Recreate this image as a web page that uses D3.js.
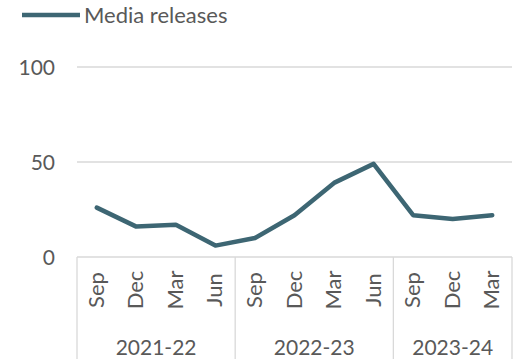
<!DOCTYPE html>
<html>
<head>
<meta charset="utf-8">
<script src="https://cdn.jsdelivr.net/npm/d3@7"></script>
<style>
  body { margin: 0; background: #fff; }
  svg { display: block; }
</style>
</head>
<body>
<svg id="chart" width="517" height="359"></svg>
<script>
// Chart data
const months = ["Sep", "Dec", "Mar", "Jun", "Sep", "Dec", "Mar", "Jun", "Sep", "Dec", "Mar"];
const years = ["2021-22", "2022-23", "2023-24"];
const yearSizes = [4, 4, 3];
const values = [26, 16, 17, 6, 10, 22, 39, 49, 22, 20, 22];
const yTicks = [0, 50, 100];
const seriesName = "Media releases";

const font = "Lato, 'Open Sans', sans-serif";
const lineColor = "#3d6673";
const gridColor = "#d9d9d9";
const textColor = "#595959";

const svg = d3.select("#chart");
const plotLeft = 77, plotRight = 512, plotTop = 67, plotBottom = 257;

const x = d3.scaleBand()
    .domain(d3.range(months.length))
    .range([plotLeft, plotRight]);

const y = d3.scaleLinear()
    .domain([0, 100])
    .range([plotBottom, plotTop]);

// Gridlines
svg.append("g")
    .selectAll("line")
    .data(yTicks.filter(t => t > 0))
    .enter()
    .append("line")
    .attr("x1", plotLeft)
    .attr("x2", plotRight)
    .attr("y1", d => y(d))
    .attr("y2", d => y(d))
    .attr("stroke", gridColor)
    .attr("stroke-width", 1.3);

// Y tick labels
svg.append("g")
    .selectAll("text")
    .data(yTicks)
    .enter()
    .append("text")
    .attr("x", 55)
    .attr("y", d => y(d))
    .attr("dy", "0.36em")
    .attr("text-anchor", "end")
    .attr("font-family", font)
    .style("font-size", "21px")
    .attr("fill", textColor)
    .text(d => d);

// Category axis frame
svg.append("line")
    .attr("x1", plotLeft).attr("x2", plotRight)
    .attr("y1", plotBottom).attr("y2", plotBottom)
    .attr("stroke", gridColor)
    .attr("stroke-width", 1.3);

let starts = [0];
yearSizes.forEach((n, i) => starts.push(starts[i] + n));
svg.append("g")
    .selectAll("line")
    .data(starts)
    .enter()
    .append("line")
    .attr("x1", d => d < months.length ? x(d) : plotRight)
    .attr("x2", d => d < months.length ? x(d) : plotRight)
    .attr("y1", plotBottom)
    .attr("y2", 359)
    .attr("stroke", gridColor)
    .attr("stroke-width", 1.3);

// Month labels
svg.append("g")
    .selectAll("text")
    .data(months)
    .enter()
    .append("text")
    .attr("transform", (d, i) => `translate(${x(i) + x.bandwidth() / 2 + 7},290) rotate(-90)`)
    .attr("text-anchor", "middle")
    .attr("font-family", font)
    .style("font-size", "22px")
    .attr("fill", textColor)
    .text(d => d);

// Year labels
svg.append("g")
    .selectAll("text")
    .data(years)
    .enter()
    .append("text")
    .attr("x", (d, i) => {
        const x0 = x(starts[i]);
        const x1 = starts[i + 1] < months.length ? x(starts[i + 1]) : plotRight;
        return (x0 + x1) / 2;
    })
    .attr("y", 355)
    .attr("text-anchor", "middle")
    .attr("font-family", font)
    .style("font-size", "21px")
    .attr("fill", textColor)
    .text(d => d);

// Series line
svg.append("path")
    .datum(values)
    .attr("fill", "none")
    .attr("stroke", lineColor)
    .attr("stroke-width", 4.5)
    .attr("stroke-linejoin", "round")
    .attr("stroke-linecap", "round")
    .attr("d", d3.line()
        .x((d, i) => x(i) + x.bandwidth() / 2)
        .y(d => y(d)));

// Legend
svg.append("line")
    .attr("x1", 22).attr("x2", 80)
    .attr("y1", 15).attr("y2", 15)
    .attr("stroke", lineColor)
    .attr("stroke-width", 4.5);
svg.append("text")
    .attr("x", 84)
    .attr("y", 23)
    .attr("font-family", font)
    .style("font-size", "22px")
    .attr("fill", textColor)
    .text(seriesName);
</script>
</body>
</html>
